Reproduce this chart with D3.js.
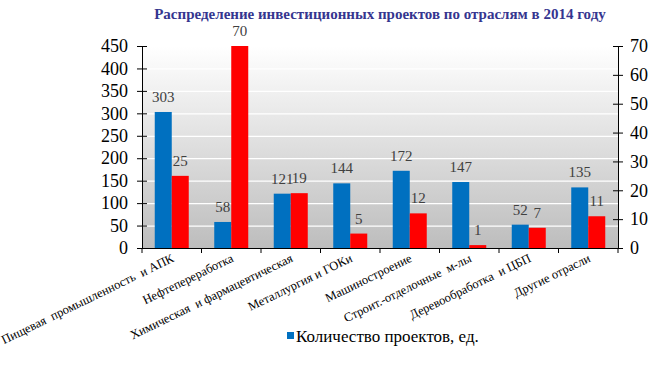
<!DOCTYPE html>
<html><head><meta charset="utf-8">
<script src="https://cdn.jsdelivr.net/npm/d3@7"></script>
<style>body{margin:0;background:#fff}</style>
</head><body>
<svg id="c" width="661" height="366"></svg>
<script>
const categories = ["Пищевая  промышленность  и АПК","Нефтепереработка","Химическая  и фармацевтическая","Металлургия и ГОКи","Машиностроение","Строит.-отделочные  м-лы","Деревообработка  и ЦБП","Другие отрасли"];
const projects = [303, 58, 121, 144, 172, 147, 52, 135];
const investments = [25, 70, 19, 5, 12, 1, 7, 11];
const leftTicks = [0,50,100,150,200,250,300,350,400,450];
const rightTicks = [0,10,20,30,40,50,60,70];
const title = "Распределение инвестиционных проектов по отраслям в 2014 году";
const legendLabel = "Количество проектов, ед.";

const svg = d3.select("#c");
const L = 142, R = 618, T = 46, B = 248;
const FF = "Liberation Serif";
function ser(sel, size){ return sel.attr("font-family",FF).attr("font-size",size).style("font-family","'Liberation Serif'").style("font-size",size+"px"); }

const x = d3.scaleBand().domain(categories).range([L, R]).paddingInner(0).paddingOuter(0);
const yL = d3.scaleLinear().domain([0,450]).range([B, T]);
const yR = d3.scaleLinear().domain([0,70]).range([B, T]);
const bw = 17;

const defs = svg.append("defs");
const g = defs.append("linearGradient").attr("id","bg").attr("x1",0).attr("y1",0).attr("x2",0).attr("y2",1);
g.append("stop").attr("offset","0%").attr("stop-color","#ffffff");
g.append("stop").attr("offset","100%").attr("stop-color","#bdbdbd");

svg.append("rect").attr("x",L).attr("y",T).attr("width",R-L).attr("height",B-T).attr("fill","url(#bg)");

svg.append("g").selectAll("line").data(leftTicks.filter(d=>d>0)).join("line")
  .attr("x1",L).attr("x2",R).attr("y1",d=>yL(d)+0.5).attr("y2",d=>yL(d)+0.5)
  .attr("stroke","#fff").attr("stroke-width",1.2);

svg.append("g").selectAll("rect").data(projects).join("rect")
  .attr("x",(d,i)=>x(categories[i])+x.bandwidth()/2-bw)
  .attr("y",d=>yL(d)).attr("width",bw).attr("height",d=>B-yL(d)).attr("fill","#0070C0");
svg.append("g").selectAll("rect").data(investments).join("rect")
  .attr("x",(d,i)=>x(categories[i])+x.bandwidth()/2)
  .attr("y",d=>yR(d)).attr("width",bw).attr("height",d=>B-yR(d)).attr("fill","#FF0000");

ser(svg.append("g").selectAll("text").data(projects).join("text")
  .attr("x",(d,i)=>x(categories[i])+x.bandwidth()/2-bw/2)
  .attr("y",d=>yL(d)-10).attr("text-anchor","middle"), 15)
  .attr("fill","#404040").text(d=>d);
ser(svg.append("g").selectAll("text").data(investments).join("text")
  .attr("x",(d,i)=>x(categories[i])+x.bandwidth()/2+bw/2)
  .attr("y",d=>yR(d)-10).attr("text-anchor","middle"), 15)
  .attr("fill","#404040").text(d=>d);

const axL = svg.append("g").attr("transform",`translate(${L},0)`)
  .call(d3.axisLeft(yL).tickValues(leftTicks).tickSize(0).tickPadding(14));
const axR = svg.append("g").attr("transform",`translate(${R},0)`)
  .call(d3.axisRight(yR).tickValues(rightTicks).tickSize(0).tickPadding(12));
[axL, axR].forEach(a=>{
  a.attr("font-family",FF);
  a.select(".domain").attr("stroke","#000");
  ser(a.selectAll(".tick text"), 18).attr("fill","#000");
  a.selectAll(".tick").append("line").attr("x1",-5).attr("x2",5).attr("stroke","#000");
});
svg.append("line").attr("x1",L).attr("x2",R).attr("y1",B+0.5).attr("y2",B+0.5).attr("stroke","#000");
const bounds = categories.map(c=>x(c)).concat([R]);
svg.append("g").selectAll("line").data(bounds).join("line")
  .attr("x1",d=>d).attr("x2",d=>d).attr("y1",B).attr("y2",B+5).attr("stroke","#000");

ser(svg.append("g").selectAll("text").data(categories).join("text")
  .attr("transform",d=>`translate(${x(d)+x.bandwidth()/2+3},${B+13}) rotate(-26)`)
  .attr("text-anchor","end"), 12.5).attr("fill","#000")
  .style("white-space","pre").text(d=>d);

ser(svg.append("text").attr("x",380).attr("y",19).attr("text-anchor","middle"), 15)
  .attr("font-weight","bold").style("font-weight","bold").attr("fill","#35358f").text(title);

svg.append("rect").attr("x",287).attr("y",332).attr("width",7).attr("height",7).attr("fill","#0070C0");
ser(svg.append("text").attr("x",296).attr("y",342), 17).attr("fill","#000").text(legendLabel);
</script>
</body></html>
